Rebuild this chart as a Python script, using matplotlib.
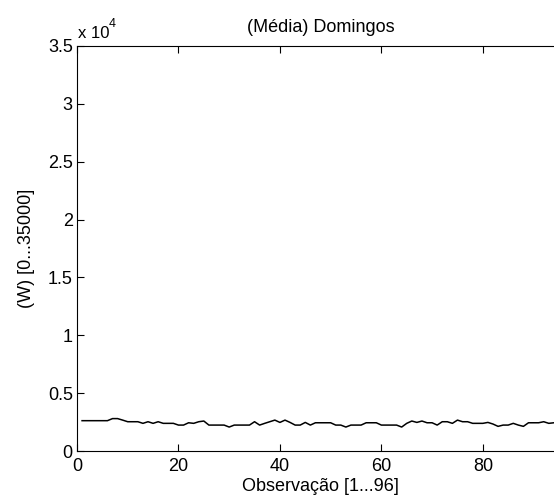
import matplotlib.pyplot as plt

plt.rcParams['font.family'] = ['Liberation Sans', 'DejaVu Sans']

# potência média por observação (domingos), 96 observações de 15 min
obs = list(range(1, 97))
potencia = [
    2620, 2620, 2620, 2620, 2620, 2620, 2800, 2800, 2670, 2530,
    2530, 2530, 2390, 2530, 2390, 2530, 2390, 2390, 2390, 2240,
    2240, 2440, 2390, 2530, 2590, 2240, 2240, 2240, 2240, 2070,
    2240, 2240, 2240, 2240, 2530, 2240, 2390, 2530, 2670, 2470,
    2670, 2470, 2240, 2240, 2470, 2240, 2440, 2440, 2440, 2440,
    2240, 2240, 2070, 2240, 2240, 2240, 2440, 2440, 2440, 2240,
    2240, 2240, 2240, 2070, 2390, 2590, 2470, 2590, 2440, 2440,
    2240, 2530, 2530, 2390, 2670, 2530, 2530, 2390, 2390, 2390,
    2470, 2330, 2130, 2240, 2240, 2390, 2240, 2130, 2440, 2440,
    2440, 2530, 2390, 2440, 2440, 2440,
]

xticks = [0, 20, 40, 60, 80]
yticks = [0, 5000, 10000, 15000, 20000, 25000, 30000, 35000]
ytick_labels = ['0', '0.5', '1', '1.5', '2', '2.5', '3', '3.5']

fig = plt.figure(figsize=(5.54, 5.01), dpi=100)
ax = fig.add_axes([77 / 554, 50 / 501, 487 / 554, 405 / 501])

ax.plot(obs, potencia, color='black', lw=1.1)

ax.set_xlim(0, 96)
ax.set_ylim(0, 35000)
ax.set_xticks(xticks)
ax.set_yticks(yticks)
ax.set_yticklabels(ytick_labels)
ax.tick_params(direction='in', top=True, right=True, length=5, width=0.8,
               labelsize=13)
ax.tick_params(axis='x', pad=5)
ax.tick_params(axis='y', pad=3)
for s in ax.spines.values():
    s.set_linewidth(0.8)

# multiplicador do eixo y
ax.annotate('x 10', xy=(0, 1), xycoords='axes fraction', xytext=(1, 6),
            textcoords='offset points', ha='left', va='baseline', fontsize=12)
ax.annotate('4', xy=(0, 1), xycoords='axes fraction', xytext=(23, 14),
            textcoords='offset points', ha='left', va='baseline', fontsize=9)

ax.set_title('(Média) Domingos', fontsize=13, pad=10)
ax.set_xlabel('Observação [1...96]', fontsize=13, labelpad=2)
ax.set_ylabel('(W) [0...35000]', fontsize=13, labelpad=9)

fig.savefig('out.png', dpi=100)
